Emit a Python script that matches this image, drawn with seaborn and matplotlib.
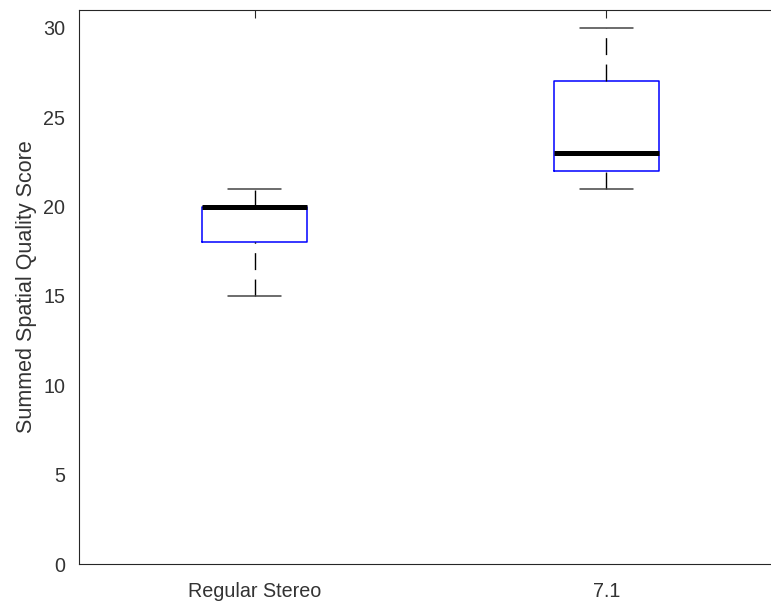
import matplotlib
matplotlib.use("Agg")
import matplotlib.pyplot as plt
import seaborn as sns
import pandas as pd

categories = ["Regular Stereo", "7.1"]
regular_stereo_scores = [15, 18, 18, 19, 20, 20, 20, 20, 21]
surround_71_scores = [21, 22, 22, 23, 23, 25, 27, 27, 30]
y_ticks = [0, 5, 10, 15, 20, 25, 30]
y_label = "Summed Spatial Quality Score"

df = pd.DataFrame({
    "Condition": [categories[0]] * len(regular_stereo_scores) + [categories[1]] * len(surround_71_scores),
    "Score": regular_stereo_scores + surround_71_scores,
})

sns.set_style("white")
plt.rcParams['font.family'] = ['Liberation Sans', 'DejaVu Sans']

fig = plt.figure(figsize=(7.71, 6.04), dpi=100)
ax = fig.add_axes([79 / 771, 40 / 604, (782 - 79) / 771, (564 - 10) / 604])

sns.boxplot(
    data=df, x="Condition", y="Score", order=categories, ax=ax,
    width=0.3, whis=1.5, fill=False, showfliers=False,
    boxprops=dict(color="#0000FF", linewidth=1.1),
    medianprops=dict(color="black", linewidth=3.6, solid_capstyle="butt"),
    whiskerprops=dict(color="black", linewidth=1.0, linestyle=(0, (12.2, 6.8))),
    capprops=dict(color="#444444", linewidth=1.1),
    capwidths=0.15,
)

# MATLAB draws whiskers from the lower end upward: start dash pattern at lower y
for ln in ax.lines:
    if ln.get_linestyle() == "--":
        xs, ys = list(ln.get_xdata()), list(ln.get_ydata())
        if len(ys) == 2 and ys[0] > ys[1]:
            ln.set_data(xs[::-1], ys[::-1])

ax.set_xlim(-0.5, 1.5)
ax.set_ylim(0, 31)
ax.set_yticks(y_ticks)
ax.set_xlabel("")
ax.set_ylabel(y_label, fontsize=15.5, color="#333333", labelpad=4)
for side in ["top", "left", "bottom", "right"]:
    ax.spines[side].set_visible(True)
    ax.spines[side].set_color("#262626")
    ax.spines[side].set_linewidth(0.8)
ax.tick_params(axis="both", direction="in", length=5.5, width=0.8, colors="#262626",
               labelsize=14.2, labelcolor="#333333")
ax.tick_params(axis="y", pad=10)
ax.tick_params(axis="x", pad=13)
ax.tick_params(top=True, right=True, labeltop=False, labelright=False)

fig.savefig("out.png", dpi=100)
